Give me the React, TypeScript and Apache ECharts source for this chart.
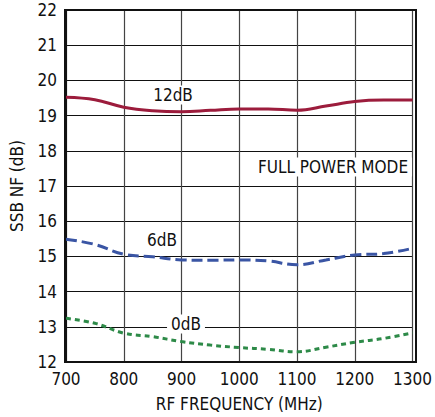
import React, { useEffect, useRef } from "react";
import * as echarts from "echarts";

const freqs = [700, 750, 800, 850, 900, 950, 1000, 1050, 1100, 1150, 1200, 1250, 1300];
const nf12dB = [19.52, 19.45, 19.24, 19.14, 19.11, 19.15, 19.19, 19.19, 19.15, 19.27, 19.4, 19.44, 19.44];
const nf6dB = [15.49, 15.34, 15.06, 14.99, 14.9, 14.89, 14.9, 14.87, 14.76, 14.9, 15.04, 15.08, 15.23];
const nf0dB = [13.24, 13.1, 12.82, 12.72, 12.58, 12.48, 12.41, 12.36, 12.29, 12.42, 12.56, 12.67, 12.83];

const FONT = "'DejaVu Sans Condensed', 'Liberation Sans Narrow', sans-serif";

export default function App() {
  const ref = useRef<HTMLDivElement>(null);
  useEffect(() => {
    document.body.style.margin = "0";
    const chart = echarts.init(ref.current!, null, { renderer: "svg" });
    const mk = (vals: number[]) => freqs.map((f, i) => [f, vals[i]]);
    const txt = (text: string, x: number, y: number, bg = false) => ({
      type: "text",
      x,
      y,
      z: 100,
      style: {
        text,
        fill: "#111",
        font: `17px ${FONT}`,
        textAlign: "center",
        textVerticalAlign: "middle",
        backgroundColor: bg ? "#fff" : undefined,
        padding: bg ? [1, 4] : undefined,
      },
    });
    chart.setOption({
      animation: false,
      grid: { left: 65, top: 10, width: 351, height: 352, containLabel: false },
      xAxis: {
        type: "value",
        min: 700,
        max: 1300,
        interval: 100,
        name: "RF FREQUENCY (MHz)",
        nameLocation: "middle",
        nameGap: 33,
        nameTextStyle: { fontFamily: FONT, fontSize: 17, color: "#111" },
        axisLine: { show: true, lineStyle: { color: "#111", width: 2 } },
        axisTick: { show: false },
        axisLabel: {
          fontFamily: FONT,
          fontSize: 17,
          color: "#111",
          margin: 8,
          formatter: (v: number) => String(v),
        },
        splitLine: { show: true, lineStyle: { color: "#444", width: 1.2 } },
      },
      yAxis: {
        type: "value",
        min: 12,
        max: 22,
        interval: 1,
        name: "SSB NF (dB)",
        nameLocation: "middle",
        nameGap: 41,
        nameTextStyle: { fontFamily: FONT, fontSize: 17, color: "#111" },
        axisLine: { show: true, lineStyle: { color: "#111", width: 2 } },
        axisTick: { show: false },
        axisLabel: { fontFamily: FONT, fontSize: 17, color: "#111", margin: 9 },
        splitLine: { show: true, lineStyle: { color: "#111", width: 1.2 } },
      },
      graphic: [
        {
          type: "rect",
          shape: { x: 65, y: 10, width: 351, height: 352 },
          style: { fill: "none", stroke: "#111", lineWidth: 2 },
          z: 50,
          silent: true,
        },
        txt("12dB", 173, 95, true),
        txt("6dB", 162, 240),
        txt("0dB", 186, 324, true),
        txt("FULL POWER MODE", 333, 167, true),
      ],
      series: [
        {
          type: "line",
          data: mk(nf12dB),
          smooth: 0.4,
          symbol: "none",
          lineStyle: { color: "#9c1c3c", width: 3 },
        },
        {
          type: "line",
          data: mk(nf6dB),
          smooth: 0.4,
          symbol: "none",
          lineStyle: { color: "#3a55a4", width: 3, type: [11, 5] },
        },
        {
          type: "line",
          data: mk(nf0dB),
          smooth: 0.4,
          symbol: "none",
          lineStyle: { color: "#2d8a48", width: 3, type: [5, 4] },
        },
      ],
    });
    return () => chart.dispose();
  }, []);
  return <div ref={ref} style={{ width: 435, height: 417 }} />;
}
